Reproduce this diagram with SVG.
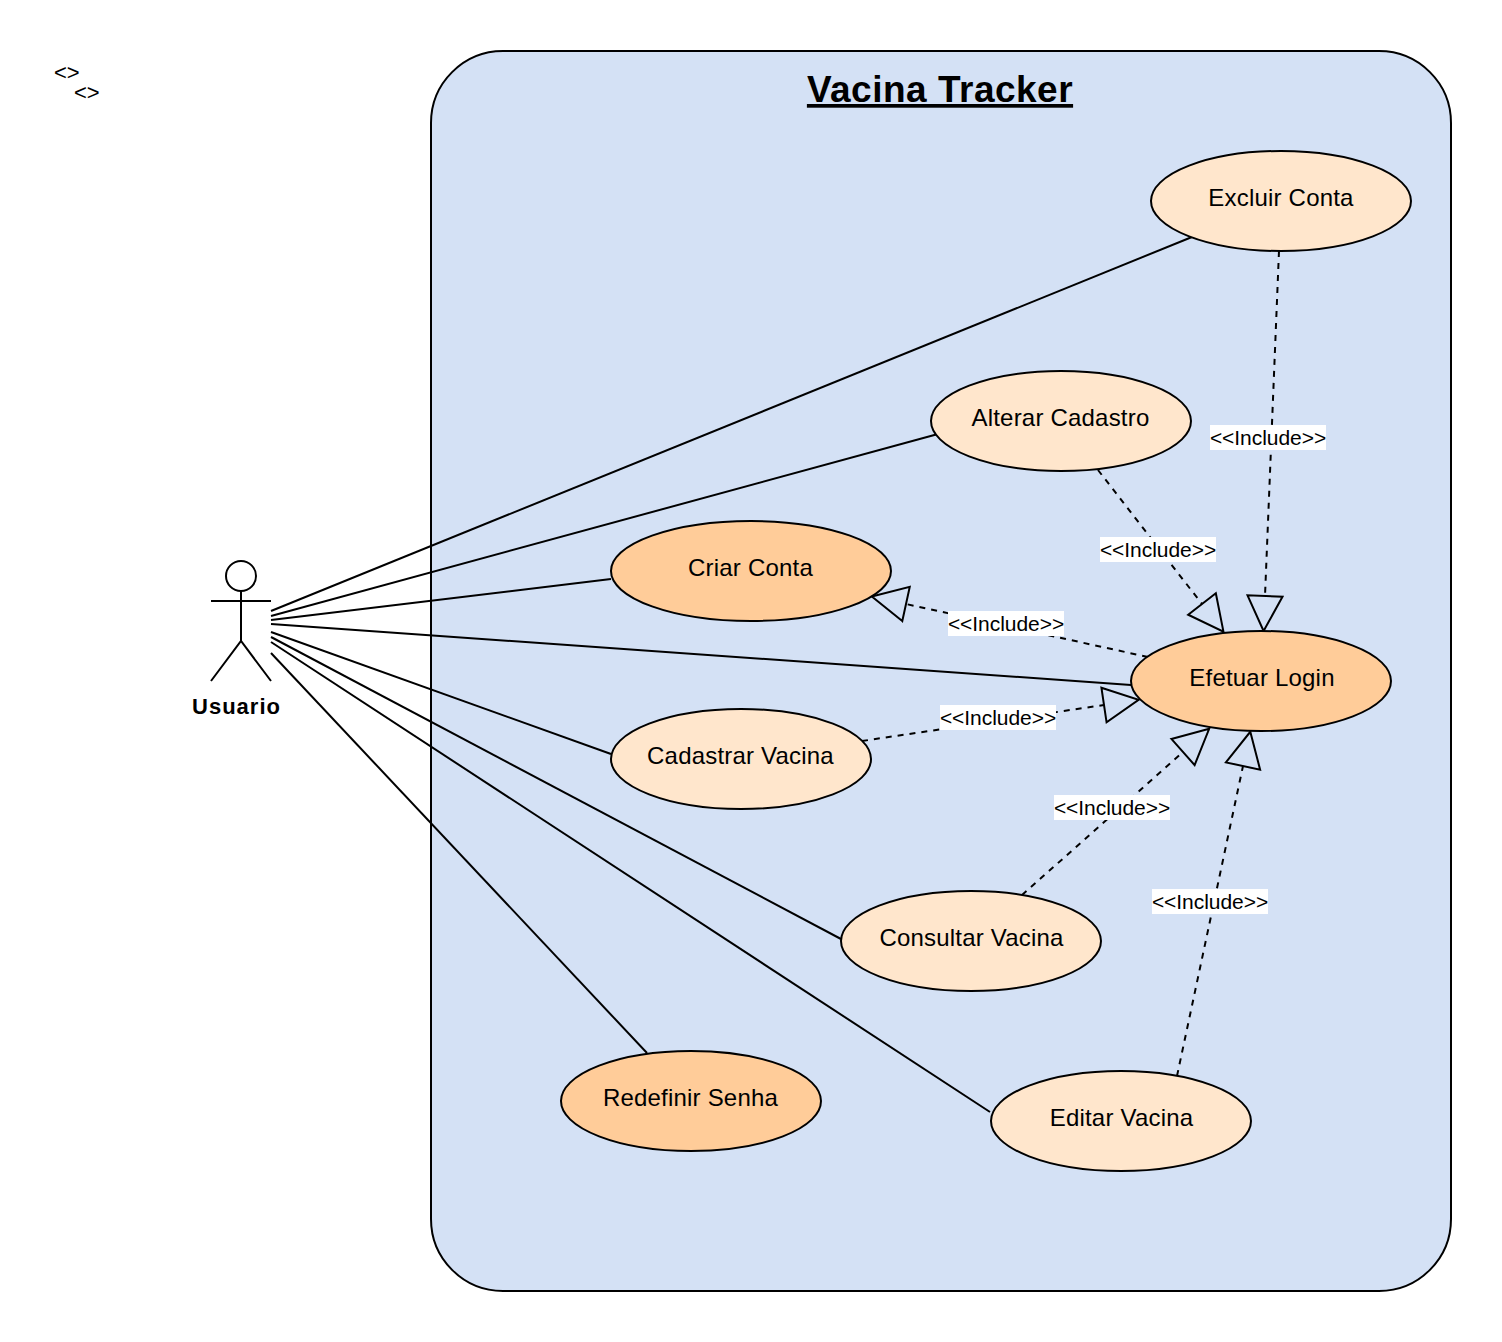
<svg xmlns="http://www.w3.org/2000/svg" width="1502" height="1342" viewBox="0 0 1502 1342">
<style>
text{font-family:"Liberation Sans",Arial,sans-serif;fill:#000}
.n{font-size:24px;text-anchor:middle;letter-spacing:.2px}
.e{stroke:#000;stroke-width:2}
.l{fill:#FFE6CC}
.d{fill:#FFCC99}
.a{stroke:#000;stroke-width:2;fill:none}
.i{stroke:#000;stroke-width:2;fill:none;stroke-dasharray:6 6;marker-end:url(#tri)}
.bg{fill:#fff}
.t{font-size:21px;text-anchor:middle;letter-spacing:-.05px}
.s{font-size:22px}
</style>
<defs>
<marker id="tri" markerUnits="userSpaceOnUse" markerWidth="40" markerHeight="40" viewBox="-2 -20 40 40" refX="0" refY="0" orient="auto"><path d="M0-17.500L35 0L0 17.500Z" fill="none" stroke="#000" stroke-width="2"/></marker>
</defs>
<rect width="1502" height="1342" fill="#fff"/>
<g id="stray-labels"><text class="s" x="54" y="80">&lt;&gt;</text><text class="s" x="74" y="100">&lt;&gt;</text></g>
<g id="system"><rect x="431" y="51" width="1020" height="1240" rx="72" ry="72" fill="#D4E1F5" stroke="#000" stroke-width="2"/><text x="940" y="102" font-size="37" font-weight="bold" text-anchor="middle" text-decoration="underline" letter-spacing=".5">Vacina Tracker</text></g>
<g id="connectors">
<path class="a" d="M271 611L1192 237"/><path class="a" d="M271 616L938 434"/><path class="a" d="M271 620L611 579"/><path class="a" d="M271 624L1131 685"/><path class="a" d="M271 632L611 754"/><path class="a" d="M271 637L841 939"/><path class="a" d="M271 642L990 1112"/><path class="a" d="M271 653L647 1053"/>
<path class="i" d="M1279 251L1265 596"/><path class="i" d="M1098 470L1202 604"/><path class="i" d="M1148 657L906 604"/><path class="i" d="M862 741L1104 705"/><path class="i" d="M1022 895L1183 752"/><path class="i" d="M1177 1076L1243 766"/>
<g id="labels">
<rect class="bg" x="1210" y="425" width="116" height="25"/><text class="t" x="1268" y="445">&lt;&lt;Include&gt;&gt;</text>
<rect class="bg" x="1100" y="537" width="116" height="25"/><text class="t" x="1158" y="557">&lt;&lt;Include&gt;&gt;</text>
<rect class="bg" x="948" y="611" width="116" height="25"/><text class="t" x="1006" y="631">&lt;&lt;Include&gt;&gt;</text>
<rect class="bg" x="940" y="705" width="116" height="25"/><text class="t" x="998" y="725">&lt;&lt;Include&gt;&gt;</text>
<rect class="bg" x="1054" y="795" width="116" height="25"/><text class="t" x="1112" y="815">&lt;&lt;Include&gt;&gt;</text>
<rect class="bg" x="1152" y="889" width="116" height="25"/><text class="t" x="1210" y="909">&lt;&lt;Include&gt;&gt;</text>
</g>
</g>
<g id="actor"><circle cx="241" cy="576" r="15" fill="#fff" stroke="#000" stroke-width="2"/><path class="a" d="M241 591V641M211 601H271M211 681L241 641L271 681"/><text x="236.500" y="714" font-size="22" font-weight="bold" text-anchor="middle" letter-spacing="1">Usuario</text></g>
<g id="excluir"><ellipse class="e l" cx="1281" cy="201" rx="130" ry="50"/><text class="n" x="1281" y="206">Excluir Conta</text></g>
<g id="alterar"><ellipse class="e l" cx="1061" cy="421" rx="130" ry="50"/><text class="n" x="1060.500" y="426">Alterar Cadastro</text></g>
<g id="criar"><ellipse class="e d" cx="751" cy="571" rx="140" ry="50"/><text class="n" x="750.500" y="576">Criar Conta</text></g>
<g id="login"><ellipse class="e d" cx="1261" cy="681" rx="130" ry="50"/><text class="n" x="1262" y="686">Efetuar Login</text></g>
<g id="cadastrar"><ellipse class="e l" cx="741" cy="759" rx="130" ry="50"/><text class="n" x="740.500" y="764">Cadastrar Vacina</text></g>
<g id="consultar"><ellipse class="e l" cx="971" cy="941" rx="130" ry="50"/><text class="n" x="971.500" y="946">Consultar Vacina</text></g>
<g id="redefinir"><ellipse class="e d" cx="691" cy="1101" rx="130" ry="50"/><text class="n" x="690.500" y="1106">Redefinir Senha</text></g>
<g id="editar"><ellipse class="e l" cx="1121" cy="1121" rx="130" ry="50"/><text class="n" x="1121.500" y="1126">Editar Vacina</text></g>
</svg>
